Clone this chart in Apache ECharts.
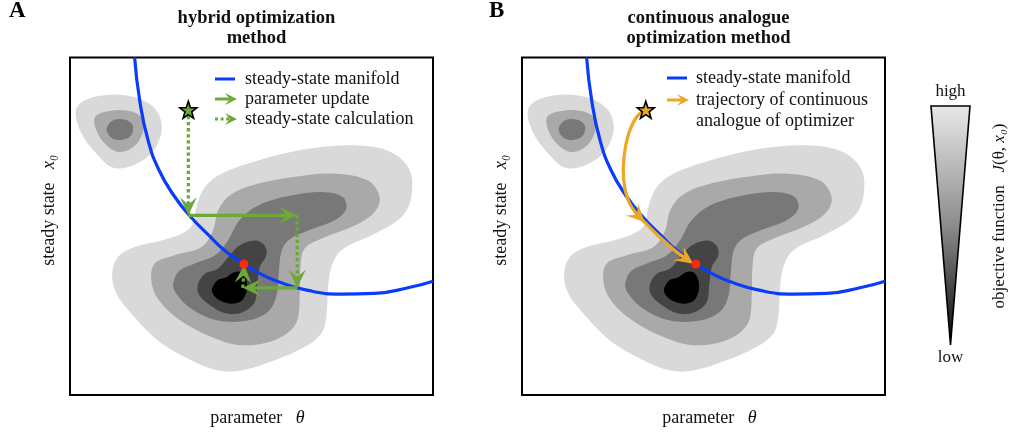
<!DOCTYPE html>
<html>
<head>
<meta charset="utf-8">
<script src="https://cdn.jsdelivr.net/npm/echarts@6/dist/echarts.min.js"></script>
<style>
  html, body { margin: 0; padding: 0; background: #fff; }
  #chart { width: 1019px; height: 440px; }
</style>
</head>
<body>
<div id="chart"></div>
<script>
const SERIF = '"Liberation Serif", "Times New Roman", serif';
const BLUE = '#0b3cfb';
const GREEN = '#6ea83a';
const ORANGE = '#eaa826';
const OPT_RED = '#ff2a00';

// Objective-function levels, outermost (high) to innermost (low)
const levelColors = ['#d9d9d9', '#a9a9a9', '#787878', '#444444', '#000000'];

// Small basin in the upper left (parameter, steady state)
const sideBasin = [
  [[1.8, 84.7], [6.4, 88.0], [15.6, 88.5], [23.0, 85.0], [25.3, 79.0], [23.0, 71.9], [17.4, 67.4], [11.9, 66.7], [7.3, 70.9], [2.8, 77.9]],
  [[6.9, 82.0], [10.1, 83.7], [15.6, 84.0], [19.7, 82.0], [20.2, 77.9], [17.9, 73.4], [13.8, 71.4], [10.1, 73.4], [7.3, 77.9]],
  [[10.1, 78.4], [11.9, 81.0], [15.2, 81.2], [17.3, 79.5], [16.8, 76.4], [14.2, 75.1], [11.5, 75.7]]
];

// Main basin around the optimum
const mainBasin = [
  [[11.6, 34.6], [13.2, 39.7], [17.8, 42.7], [25.2, 44.7], [30.7, 46.7], [33.9, 49.7], [34.8, 54.8], [37.1, 60.8], [41.7, 64.9],
   [51.8, 68.9], [65.6, 72.4], [79.3, 73.4], [88.5, 71.4], [93.6, 65.9], [94.0, 57.8], [91.3, 51.8], [83.9, 46.7], [74.7, 41.7],
   [72.0, 36.7], [71.1, 30.6], [70.6, 21.6], [69.2, 16.5], [64.6, 12.5], [56.4, 8.5], [47.2, 5.4], [40.8, 5.4], [33.4, 8.5],
   [24.2, 14.5], [16.9, 22.6], [12.8, 28.6]],
  [[22.4, 32.6], [23.3, 37.7], [28.8, 40.2], [36.2, 42.7], [39.4, 47.7], [40.8, 53.8], [44.0, 58.3], [50.0, 61.3], [61.0, 63.8],
   [72.9, 64.9], [82.1, 62.8], [85.3, 57.8], [83.9, 53.3], [78.4, 49.2], [69.2, 45.2], [64.6, 42.2], [63.5, 36.7], [63.3, 28.6],
   [62.4, 20.0], [58.2, 15.5], [51.8, 13.3], [45.4, 13.3], [38.0, 16.0], [29.8, 21.0], [24.2, 27.1]],
  [[28.4, 31.6], [30.2, 35.6], [34.3, 37.7], [39.9, 40.2], [43.5, 44.7], [46.7, 50.8], [51.8, 55.3], [60.9, 58.3], [70.2, 59.3],
   [75.2, 57.8], [76.1, 54.3], [72.9, 50.8], [65.6, 47.7], [60.1, 44.7], [58.2, 41.2], [57.5, 34.6], [56.8, 27.6], [54.5, 23.1],
   [49.0, 20.5], [40.8, 20.5], [33.4, 24.1], [29.3, 28.6]],
  [[35.3, 31.6], [37.1, 34.6], [40.8, 36.2], [44.0, 40.2], [46.7, 43.2], [50.9, 44.7], [53.6, 43.2], [54.1, 40.2], [52.3, 36.7],
   [51.6, 31.6], [50.9, 26.1], [47.7, 23.1], [43.1, 22.6], [38.0, 25.6], [35.4, 28.6]],
  [[39.1, 30.1], [40.8, 32.8], [43.1, 33.6], [45.2, 35.1], [47.2, 35.1], [48.6, 32.6], [48.6, 29.1], [47.2, 26.4], [44.3, 25.6],
   [41.2, 26.6], [39.5, 28.4]]
];

// Steady-state manifold x0(theta)
const manifold = [
  [17.8, 100], [19.2, 87.0], [21.5, 75.0], [24.5, 66.0], [28.6, 58.3], [33.3, 51.8], [38.2, 46.3], [42.8, 41.5],
  [47.8, 37.7], [52.5, 34.6], [57.0, 32.4], [65.6, 29.6], [74.7, 28.5], [83.9, 28.7], [93.1, 30.4], [100, 32.4]
];

// Optimum on the manifold
const optimum = [47.9, 37.6];

// Hybrid method: alternating steady-state calculations and parameter updates
const hybridX = [32.6, 32.6, 62.6, 62.6, 47.6, 48.0];
const hybridY = [84.2, 52.3, 52.3, 30.4, 30.4, 37.3];
const hybridKind = ['steady-state calculation', 'parameter update', 'steady-state calculation', 'parameter update', 'steady-state calculation'];

// Continuous analogue: trajectory from start point to optimum
const trajX = [34.1, 31.6, 29.4, 28.1, 28.0, 29.2, 31.5, 33.8, 38.0, 42.6, 47.2];
const trajY = [84.2, 82.0, 77.0, 70.0, 63.0, 57.0, 52.8, 50.2, 45.7, 41.2, 37.7];
const trajArrowAt = [7, 10];

const contourShapes = [];
sideBasin.forEach((poly, i) => contourShapes.push({ points: poly, color: levelColors[i] }));
mainBasin.forEach((poly, i) => contourShapes.push({ points: poly, color: levelColors[i] }));

const STAR = 'path://M0,-10L2.35,-3.24L9.51,-3.09L3.8,1.24L5.88,8.09L0,4.2L-5.88,8.09L-3.8,1.24L-9.51,-3.09L-2.35,-3.24Z';

// Arrow head with a swept-back notch; returns polygon points and the notch point
function headPoints(tip, from, len, half) {
  const dx = tip[0] - from[0], dy = tip[1] - from[1];
  const d = Math.hypot(dx, dy) || 1;
  const ux = dx / d, uy = dy / d, nx = -uy, ny = ux;
  const bx = tip[0] - ux * len, by = tip[1] - uy * len;
  const notch = [tip[0] - ux * len * 0.6, tip[1] - uy * len * 0.6];
  return {
    pts: [tip, [bx + nx * half, by + ny * half], notch, [bx - nx * half, by - ny * half]],
    notch: notch
  };
}

function renderContour(params, api) {
  const s = contourShapes[params.dataIndex];
  return {
    type: 'polygon',
    shape: { points: s.points.map(p => api.coord(p)), smooth: 0.35 },
    style: { fill: s.color }
  };
}

function renderHybridStep(params, api) {
  const i = params.dataIndex;
  const a = api.coord([hybridX[i], hybridY[i]]);
  const b = api.coord([hybridX[i + 1], hybridY[i + 1]]);
  const dotted = hybridKind[i] === 'steady-state calculation';
  const h = headPoints(b, a, 18, 8.5);
  return {
    type: 'group',
    children: [
      { type: 'line', shape: { x1: a[0], y1: a[1], x2: h.notch[0], y2: h.notch[1] },
        style: { stroke: GREEN, lineWidth: 3.3, lineDash: dotted ? [3.3, 2.8] : null } },
      { type: 'polygon', shape: { points: h.pts }, style: { fill: GREEN } }
    ]
  };
}

function renderTrajectory(params, api) {
  const pts = trajX.map((x, i) => api.coord([x, trajY[i]]));
  const children = [];
  const heads = trajArrowAt.map(k => {
    const prev = pts[k - 1];
    const next = pts[k + 1] || pts[k];
    const from = k + 1 < pts.length ? [pts[k][0] - (next[0] - prev[0]), pts[k][1] - (next[1] - prev[1])] : prev;
    return headPoints(pts[k], from, 18, 8.5);
  });
  const linePts = pts.slice();
  linePts[linePts.length - 1] = heads[heads.length - 1].notch;
  children.push({ type: 'polyline', shape: { points: linePts, smooth: 0.4 },
    style: { stroke: ORANGE, lineWidth: 3.3, fill: null } });
  heads.forEach(h => children.push({ type: 'polygon', shape: { points: h.pts }, style: { fill: ORANGE } }));
  return { type: 'group', children };
}

function panelAxes(gi) {
  return {
    x: {
      gridIndex: gi, type: 'value', min: 0, max: 100,
      axisLine: { show: false }, axisTick: { show: false }, axisLabel: { show: false }, splitLine: { show: false },
      name: 'parameter   {t|θ}', nameLocation: 'middle', nameGap: 14,
      nameTextStyle: { fontFamily: SERIF, fontSize: 18, color: '#111', padding: [0, 0, 0, 12],
        rich: { t: { fontFamily: SERIF, fontStyle: 'italic', fontSize: 18, color: '#111' } } }
    },
    y: {
      gridIndex: gi, type: 'value', min: -2, max: 100,
      axisLine: { show: false }, axisTick: { show: false }, axisLabel: { show: false }, splitLine: { show: false },
      name: 'steady state   {t|x₀}', nameLocation: 'middle', nameGap: 12,
      nameTextStyle: { fontFamily: SERIF, fontSize: 18, color: '#111', padding: [0, 0, 0, 32],
        rich: { t: { fontFamily: SERIF, fontStyle: 'italic', fontSize: 18, color: '#111' } } }
    }
  };
}
const axA = panelAxes(0), axB = panelAxes(1);

// Legend entries drawn inside each panel
function legendRow(x, y, kind, color, label, textX) {
  const items = [];
  if (kind === 'line') {
    items.push({ type: 'line', shape: { x1: x, y1: y, x2: x + 20, y2: y }, style: { stroke: color, lineWidth: 3 } });
  } else {
    const h = headPoints([x + 22, y], [x, y], 12, 6);
    items.push({ type: 'line', shape: { x1: x, y1: y, x2: h.notch[0], y2: y },
      style: { stroke: color, lineWidth: 3, lineDash: kind === 'dotted' ? [3, 2.6] : null } });
    items.push({ type: 'polygon', shape: { points: h.pts }, style: { fill: color } });
  }
  items.push({ type: 'text', x: textX, y: y, style: { text: label, fill: '#111', fontFamily: SERIF, fontSize: 18,
    lineHeight: 21, align: 'left', verticalAlign: 'middle' } });
  return items;
}

const graphics = [].concat(
  legendRow(215, 79, 'line', BLUE, 'steady-state manifold', 245),
  legendRow(215, 99, 'arrow', GREEN, 'parameter update', 245),
  legendRow(215, 119, 'dotted', GREEN, 'steady-state calculation', 245),
  legendRow(667, 78, 'line', BLUE, 'steady-state manifold', 696),
  legendRow(667, 100, 'arrow', ORANGE, 'trajectory of continuous', 696),
  [{ type: 'text', x: 696, y: 121, style: { text: 'analogue of optimizer', fill: '#111', fontFamily: SERIF, fontSize: 18,
      align: 'left', verticalAlign: 'middle' } }],
  [
    // colour scale of the objective function
    { type: 'polygon', shape: { points: [[931, 106], [970, 106], [950.5, 345]] },
      style: { fill: { type: 'linear', x: 0, y: 0, x2: 0, y2: 1,
        colorStops: [{ offset: 0, color: '#e8e8e8' }, { offset: 0.5, color: '#8c8c8c' }, { offset: 1, color: '#050505' }] },
        stroke: '#000', lineWidth: 1.6, lineJoin: 'miter' } },
    { type: 'text', x: 950.5, y: 92, style: { text: 'high', fill: '#111', fontFamily: SERIF, fontSize: 17, align: 'center', verticalAlign: 'middle' } },
    { type: 'text', x: 950.5, y: 358, style: { text: 'low', fill: '#111', fontFamily: SERIF, fontSize: 17, align: 'center', verticalAlign: 'middle' } },
    { type: 'text', x: 1000, y: 216, rotation: Math.PI / 2,
      style: { text: 'objective function   {i|J}(θ, {i|x₀})', fill: '#111', fontFamily: SERIF, fontSize: 17,
        align: 'center', verticalAlign: 'middle',
        rich: { i: { fontFamily: SERIF, fontStyle: 'italic', fontSize: 17, fill: '#111' } } } }
  ]
);

const titleStyle = { fontFamily: SERIF, fontWeight: 'bold', fontSize: 18.5, lineHeight: 20, color: '#111' };

const option = {
  animation: false,
  backgroundColor: '#fff',
  title: [
    { text: 'hybrid optimization\nmethod', left: 251.5, top: 3, textAlign: 'center', textStyle: titleStyle },
    { text: 'continuous analogue\noptimization method', left: 703.5, top: 3, textAlign: 'center', textStyle: titleStyle },
    { text: 'A', left: 9, top: 0, padding: 0, textStyle: { fontFamily: SERIF, fontWeight: 'bold', fontSize: 23, color: '#000' } },
    { text: 'B', left: 489, top: 0, padding: 0, textStyle: { fontFamily: SERIF, fontWeight: 'bold', fontSize: 23, color: '#000' } }
  ],
  grid: [
    { left: 70, top: 57.5, width: 363, height: 337.5, show: true, borderColor: '#000', borderWidth: 2, backgroundColor: '#fff' },
    { left: 522, top: 57.5, width: 363, height: 337.5, show: true, borderColor: '#000', borderWidth: 2, backgroundColor: '#fff' }
  ],
  xAxis: [axA.x, axB.x],
  yAxis: [axA.y, axB.y],
  graphic: graphics,
  series: [
    { type: 'custom', name: 'objective A', xAxisIndex: 0, yAxisIndex: 0, clip: true, z: 1,
      data: contourShapes.map((s, i) => i), renderItem: renderContour, silent: true },
    { type: 'custom', name: 'objective B', xAxisIndex: 1, yAxisIndex: 1, clip: true, z: 1,
      data: contourShapes.map((s, i) => i), renderItem: renderContour, silent: true },
    { type: 'line', name: 'steady-state manifold', xAxisIndex: 0, yAxisIndex: 0, data: manifold, smooth: true,
      showSymbol: false, lineStyle: { color: BLUE, width: 3.2 }, z: 2 },
    { type: 'line', name: 'steady-state manifold', xAxisIndex: 1, yAxisIndex: 1, data: manifold, smooth: true,
      showSymbol: false, lineStyle: { color: BLUE, width: 3.2 }, z: 2 },
    { type: 'custom', name: 'hybrid steps', xAxisIndex: 0, yAxisIndex: 0, z: 3,
      data: hybridKind.map((k, i) => i), renderItem: renderHybridStep },
    { type: 'custom', name: 'continuous trajectory', xAxisIndex: 1, yAxisIndex: 1, z: 3,
      data: [0], renderItem: renderTrajectory },
    { type: 'scatter', name: 'optimum', xAxisIndex: 0, yAxisIndex: 0, data: [optimum], symbolSize: 9,
      itemStyle: { color: OPT_RED, opacity: 1 }, z: 4 },
    { type: 'scatter', name: 'optimum', xAxisIndex: 1, yAxisIndex: 1, data: [optimum], symbolSize: 9,
      itemStyle: { color: OPT_RED, opacity: 1 }, z: 4 },
    { type: 'scatter', name: 'start', xAxisIndex: 0, yAxisIndex: 0, data: [[hybridX[0], hybridY[0]]], symbol: STAR, symbolSize: 17,
      itemStyle: { color: GREEN, borderColor: '#000', borderWidth: 1.6, opacity: 1 }, z: 5 },
    { type: 'scatter', name: 'start', xAxisIndex: 1, yAxisIndex: 1, data: [[trajX[0], trajY[0]]], symbol: STAR, symbolSize: 17,
      itemStyle: { color: ORANGE, borderColor: '#000', borderWidth: 1.6, opacity: 1 }, z: 5 }
  ]
};

const chart = echarts.init(document.getElementById('chart'));
chart.setOption(option);
</script>
</body>
</html>
